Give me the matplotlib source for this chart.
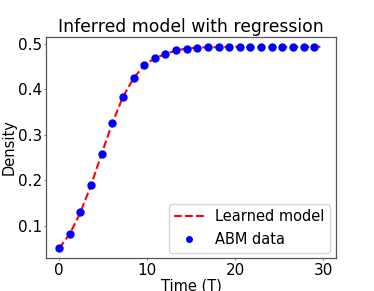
import matplotlib
matplotlib.use("Agg")
import matplotlib.pyplot as plt

# ABM data
t_data = [0.0, 1.21, 2.42, 3.63, 4.83, 6.04, 7.25, 8.46, 9.67, 10.88, 12.08, 13.29,
          14.5, 15.71, 16.92, 18.13, 19.33, 20.54, 21.75, 22.96, 24.17, 25.38, 26.58,
          27.79, 29.0]
y_data = [0.050, 0.082, 0.129, 0.189, 0.258, 0.325, 0.383, 0.424, 0.452, 0.468, 0.477,
          0.485, 0.489, 0.491, 0.492, 0.492, 0.493, 0.493, 0.493, 0.493, 0.493, 0.493,
          0.493, 0.493, 0.493]

# Learned model
t_model = t_data + [30.0]
y_model = y_data + [0.493]

fig = plt.figure(figsize=(3.74, 2.91), dpi=100)
ax = fig.add_axes([0.123, 0.112, 0.776, 0.762])
ax.plot(t_model, y_model, linestyle="--", color="red", lw=1.5, label="Learned model", zorder=2)
ax.plot(t_data, y_data, "o", color="blue", ms=5, label="ABM data", zorder=3)

fs = 10.5
ax.set_title("Inferred model with regression", fontsize=12.4, pad=3)
ax.set_xlabel("Time (T)", fontsize=fs, labelpad=1)
ax.set_ylabel("Density", fontsize=fs, labelpad=0.5)
ax.set_xticks([0, 10, 20, 30])
ax.set_yticks([0.1, 0.2, 0.3, 0.4, 0.5])
ax.tick_params(labelsize=11, length=1.5, width=0.6, color="#666666", pad=1.5)
for s in ax.spines.values():
    s.set_color("#555555")
    s.set_linewidth(0.9)
leg = ax.legend(loc="lower right", fontsize=fs, borderaxespad=0.4, markerscale=0.8)

fig.savefig("out.png", dpi=100)
